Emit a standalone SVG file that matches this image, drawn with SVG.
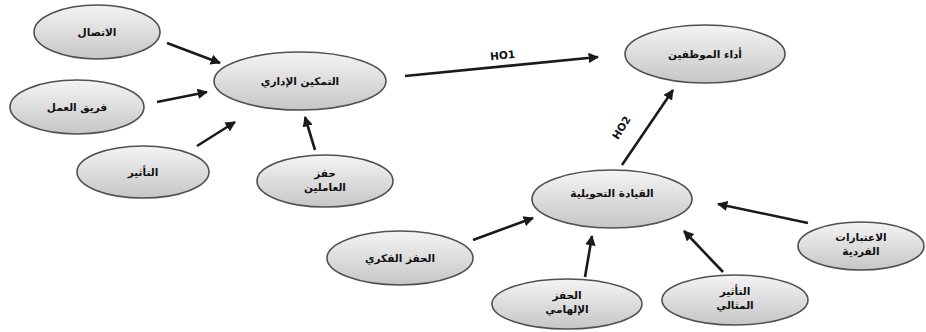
<svg xmlns="http://www.w3.org/2000/svg" width="926" height="332" viewBox="0 0 926 332">
<defs>
<linearGradient id="g" x1="0" y1="0" x2="0" y2="1">
<stop offset="0" stop-color="#f4f4f4"/>
<stop offset="1" stop-color="#c6c6c6"/>
</linearGradient>
<marker id="ah" viewBox="0 0 10 10" refX="9" refY="5" markerWidth="4" markerHeight="4" orient="auto" markerUnits="strokeWidth">
<path d="M0,0 L10,5 L0,10 z" fill="#1a1a1a"/>
</marker>
</defs>
<style>
ellipse{fill:url(#g);stroke:#505050;stroke-width:1.6}
text{font-family:"DejaVu Sans","Noto Sans",sans-serif;font-weight:bold;font-size:10.5px;fill:#111;text-anchor:middle}
.c line{stroke:#1a1a1a;stroke-width:2.6;marker-end:url(#ah)}
</style>
<rect width="926" height="332" fill="#fff"/>
<g id="n1"><ellipse cx="97" cy="32" rx="63" ry="27"/><text x="97" y="36" direction="rtl">الاتصال</text></g>
<g id="n2"><ellipse cx="77" cy="107" rx="67" ry="27"/><text x="77" y="111" direction="rtl">فريق العمل</text></g>
<g id="n3"><ellipse cx="143" cy="172" rx="66" ry="26"/><text x="143" y="176" direction="rtl">التأثير</text></g>
<g id="n4"><ellipse cx="325" cy="181" rx="68" ry="26"/><text x="325" y="177" direction="rtl">حفز</text><text x="325" y="191" direction="rtl">العاملين</text></g>
<g id="n5"><ellipse cx="300" cy="81" rx="86" ry="29"/><text x="300" y="85" direction="rtl">التمكين الإداري</text></g>
<g id="n6"><ellipse cx="705" cy="54" rx="80" ry="29"/><text x="705" y="58" direction="rtl">أداء الموظفين</text></g>
<g id="n7"><ellipse cx="612" cy="199" rx="80" ry="29"/><text x="612" y="197" direction="rtl">القيادة التحويلية</text></g>
<g id="n8"><ellipse cx="400" cy="258" rx="73" ry="27"/><text x="400" y="262" direction="rtl">الحفز الفكري</text></g>
<g id="n9"><ellipse cx="567" cy="304" rx="75" ry="25"/><text x="567" y="299" direction="rtl">الحفز</text><text x="567" y="313" direction="rtl">الإلهامي</text></g>
<g id="n10"><ellipse cx="735" cy="300" rx="73" ry="25"/><text x="735" y="295" direction="rtl">التأثير</text><text x="735" y="309" direction="rtl">المثالي</text></g>
<g id="n11"><ellipse cx="861" cy="246" rx="63" ry="24"/><text x="861" y="241" direction="rtl">الاعتبارات</text><text x="861" y="255" direction="rtl">الفردية</text></g>
<g class="c" id="connectors">
<line x1="167" y1="43" x2="220" y2="63"/>
<line x1="157" y1="102" x2="207" y2="92"/>
<line x1="197" y1="146" x2="235" y2="122"/>
<line x1="315" y1="150" x2="305" y2="117"/>
<line x1="405" y1="76" x2="598" y2="57"/>
<line x1="622" y1="165" x2="673" y2="90"/>
<line x1="473" y1="240" x2="533" y2="218"/>
<line x1="585" y1="277" x2="592" y2="236"/>
<line x1="723" y1="272" x2="684" y2="231"/>
<line x1="808" y1="223" x2="718" y2="204"/>
<text x="503" y="59" transform="rotate(-5.6 503 59)">HO1</text>
<text x="622" y="131" transform="rotate(-58 622 128)">HO2</text>
</g>
</svg>
